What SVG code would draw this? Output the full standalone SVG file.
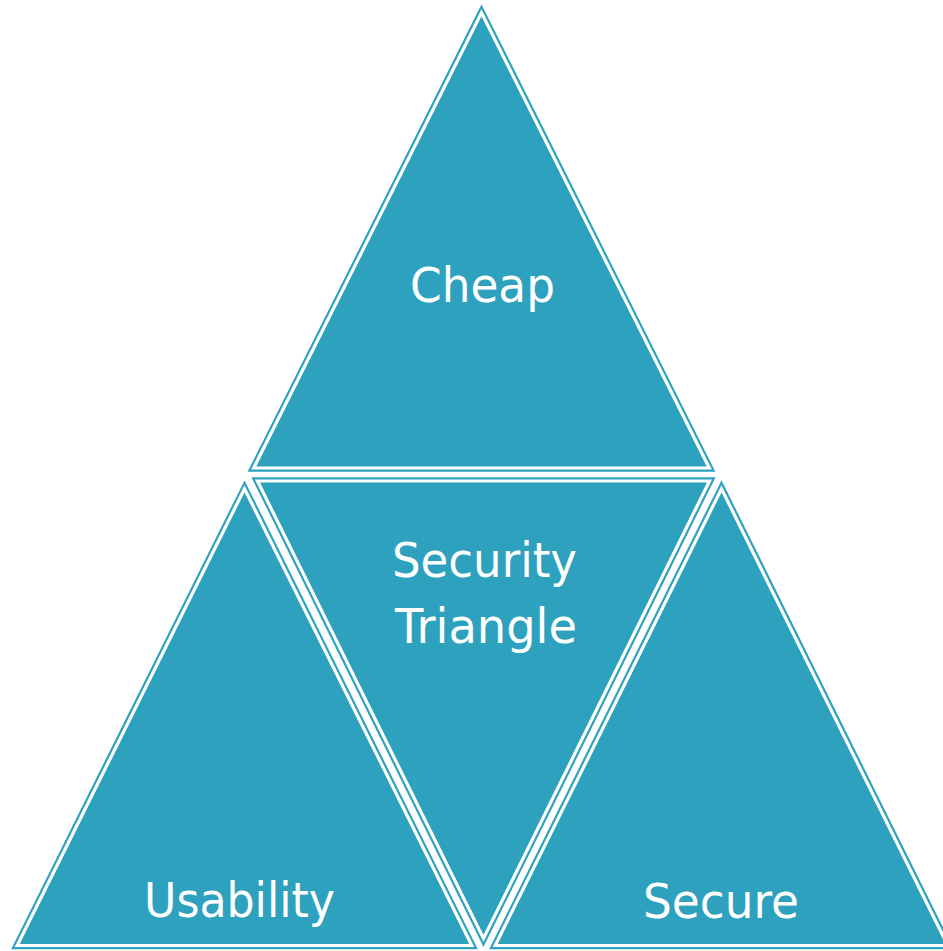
<svg xmlns="http://www.w3.org/2000/svg" width="943" height="951" viewBox="0 0 943 951">
<style>
.tri-out{fill:#2DA1BE;stroke:#2DA1BE;stroke-width:7.5;stroke-linejoin:miter;stroke-miterlimit:10}
.tri-in{fill:none;stroke:#FFFFFF;stroke-width:3.2;stroke-linejoin:miter;stroke-miterlimit:10}
.lbl{font-family:"DejaVu Sans","Noto Sans",sans-serif;font-size:48px;fill:#FFFFFF;text-anchor:middle}
</style>
<rect width="943" height="951" fill="#FFFFFF"/>
<g id="connectors"></g>
<g id="node-cheap">
<polygon class="tri-out" points="481.5,12.8 253.7,468 709.3,468"/>
<polygon class="tri-in" points="481.5,12.8 253.7,468 709.3,468"/>
<text class="lbl" x="482.5" y="302" textLength="145" lengthAdjust="spacingAndGlyphs">Cheap</text>
</g>
<g id="node-usability">
<polygon class="tri-out" points="244.5,488.8 17.2,945.5 471.8,945.5"/>
<polygon class="tri-in" points="244.5,488.8 17.2,945.5 471.8,945.5"/>
<text class="lbl" x="239.5" y="917" textLength="191" lengthAdjust="spacingAndGlyphs">Usability</text>
</g>
<g id="node-security-triangle">
<polygon class="tri-out" points="257.5,481 709.5,481 483.5,938.5"/>
<polygon class="tri-in" points="257.5,481 709.5,481 483.5,938.5"/>
<text class="lbl" x="484.5" y="577" textLength="185" lengthAdjust="spacingAndGlyphs">Security</text>
<text class="lbl" x="486" y="643" textLength="182" lengthAdjust="spacingAndGlyphs">Triangle</text>
</g>
<g id="node-secure">
<polygon class="tri-out" points="721.5,488.8 495.2,945.5 947.8,945.5"/>
<polygon class="tri-in" points="721.5,488.8 495.2,945.5 947.8,945.5"/>
<text class="lbl" x="721" y="918" textLength="156" lengthAdjust="spacingAndGlyphs">Secure</text>
</g>
</svg>
